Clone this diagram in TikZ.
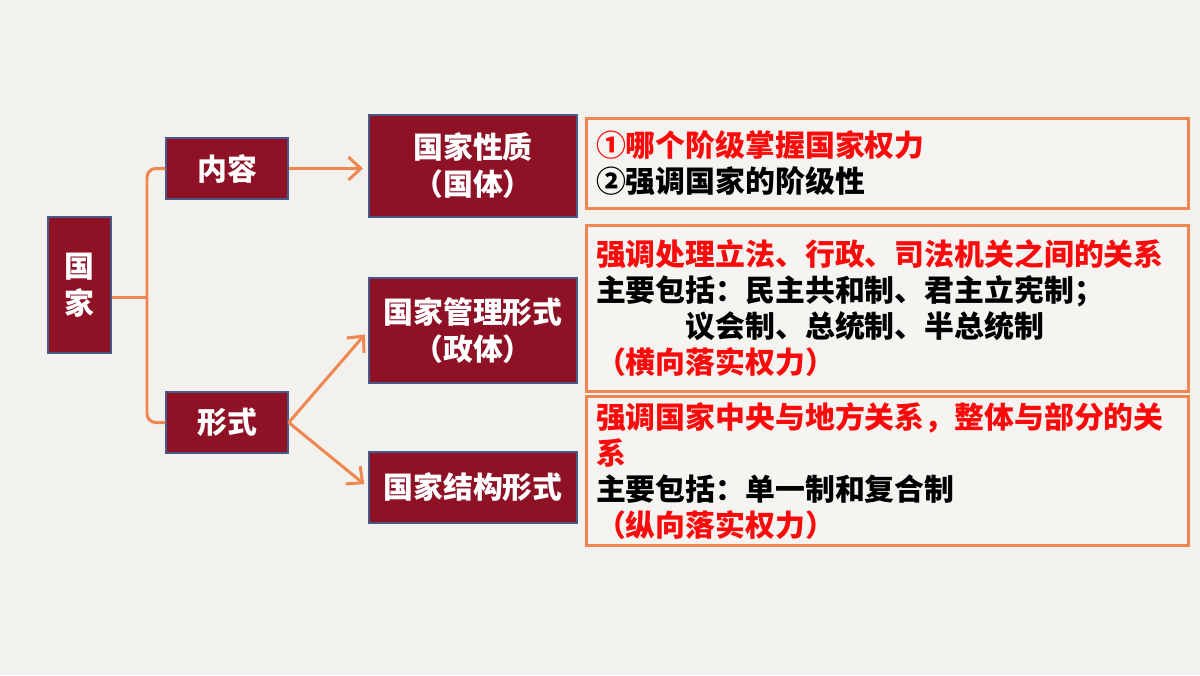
\documentclass[tikz,border=0pt]{standalone}
\usepackage{fontspec}
\newfontfamily\cjk{Noto Sans CJK SC}
\usetikzlibrary{arrows.meta}

\definecolor{paper}{RGB}{243,241,237}
\definecolor{darkred}{RGB}{142,17,38}
\definecolor{edgeblue}{RGB}{72,88,135}
\definecolor{linkorange}{RGB}{240,135,80}
\definecolor{hired}{RGB}{250,10,10}

\begin{document}
\begin{tikzpicture}[>={Straight Barb[length=7pt,width=13pt]},
    link/.style={draw=linkorange,line width=1.7pt},
    redbox/.style={rectangle,draw=edgeblue,line width=0.8pt,fill=darkred,
      text=white,align=center,font=\cjk\bfseries\fontsize{17}{21}\selectfont},
    notebox/.style={rectangle,draw=linkorange,line width=1.7pt,fill=white,fill opacity=0.25,
      text opacity=1,text width=11.64cm,inner xsep=0.2cm,align=left,
      font=\cjk\bfseries\fontsize{17}{20.4}\selectfont}]

\fill[paper] (0,0) rectangle (24,-13.5);
\useasboundingbox (0,0) rectangle (24,-13.5);

% left column
\node[redbox,minimum width=1.26cm,minimum height=2.72cm] (guojia) at (1.59,-5.7) {国\\家};
\node[redbox,minimum width=2.44cm,minimum height=1.22cm] (neirong) at (4.54,-3.37) {内容};
\node[redbox,minimum width=2.44cm,minimum height=1.22cm] (xingshi) at (4.54,-8.45) {形式};

% middle column
\node[redbox,minimum width=4.16cm,minimum height=2.04cm] (xingzhi) at (9.46,-3.32) {国家性质\\（国体）};
\node[redbox,minimum width=4.16cm,minimum height=2.10cm] (zhengti) at (9.46,-6.61) {国家管理形式\\（政体）};
\node[redbox,minimum width=4.16cm,minimum height=1.42cm] (jiegou) at (9.46,-9.75) {国家结构形式};

% notes
\node[notebox,minimum height=1.8cm] (note1) at (17.74,-3.26)
  {\textcolor{hired}{①哪个阶级掌握国家权力}\\②强调国家的阶级性};
\node[notebox,minimum height=3.32cm] (note2) at (17.74,-6.16)
  {\textcolor{hired}{强调处理立法、行政、司法机关之间的关系}\\
   主要包括：民主共和制、君主立宪制；\\
   \hspace*{3em}议会制、总统制、半总统制\\
   \textcolor{hired}{（横向落实权力）}};
\node[notebox,minimum height=2.88cm] (note3) at (17.74,-9.42)
  {\textcolor{hired}{强调国家中央与地方关系，整体与部分的关}\\
   \textcolor{hired}{系}\\
   主要包括：单一制和复合制\\
   \textcolor{hired}{（纵向落实权力）}};

% brace
\coordinate (brk) at (2.94,-5.94);
\draw[link,rounded corners=5pt] (neirong.west) -| (brk) |- (xingshi.west);
\draw[link] (guojia.east |- brk) -- (brk);

% arrows
\draw[link,->,shorten >=3pt] (neirong.east) -- (xingzhi.west |- neirong.east);
\draw[link,->,shorten >=3pt] (xingshi.east) -- (zhengti.west);
\draw[link,->,shorten >=3pt] (xingshi.east) -- (jiegou.west);

\end{tikzpicture}
\end{document}
